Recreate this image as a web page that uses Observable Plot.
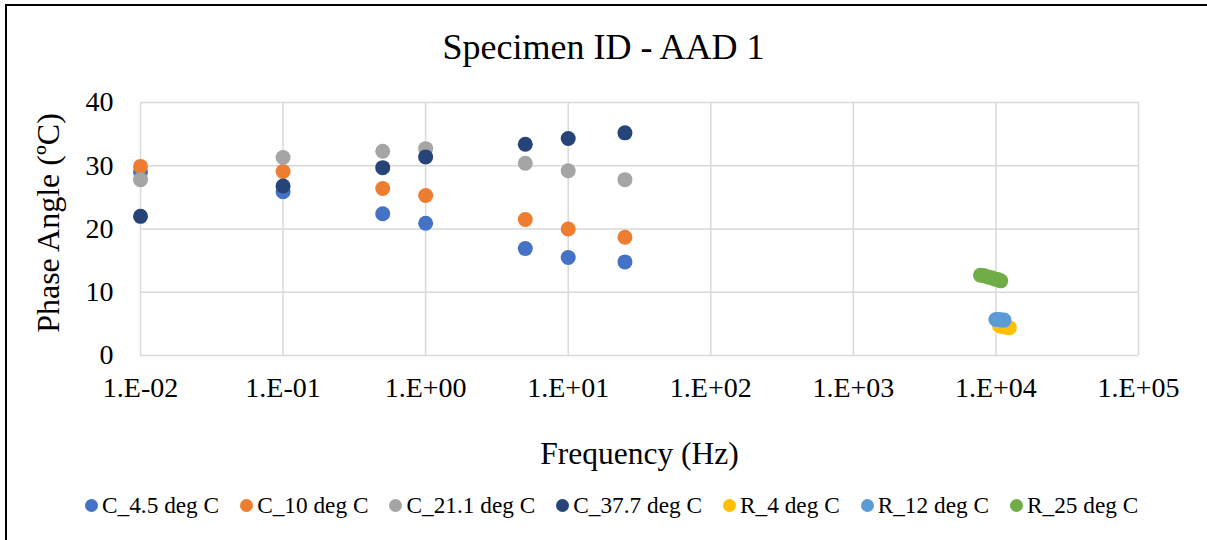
<!DOCTYPE html>
<html>
<head>
<meta charset="utf-8">
<script src="https://cdn.jsdelivr.net/npm/d3@7"></script>
<script src="https://cdn.jsdelivr.net/npm/@observablehq/plot@0.6"></script>
<style>
  html, body { margin: 0; padding: 0; background: #fff; }
  body { width: 1207px; height: 540px; position: relative; overflow: hidden; font-family: "Liberation Serif", "Times New Roman", serif; }
  #border { position: absolute; left: 5px; top: 4px; width: 1220px; height: 560px; border-left: 2px solid #000; border-top: 2px solid #000; }
  #title { position: absolute; left: 0; top: 27px; width: 1207px; text-align: center; font-size: 36px; line-height: 40px; color: #000; }
  #chart { position: absolute; left: 0; top: 90px; }
  #legend { position: absolute; left: 85px; top: 490px; display: flex; align-items: center; font-size: 23.3px; line-height: 30px; color: #000; }
  .item { display: flex; align-items: center; margin-right: 21px; white-space: nowrap; }
  .sw { width: 13px; height: 13px; border-radius: 50%; margin-right: 4px; }
</style>
</head>
<body>
<div id="border"></div>
<div id="title">Specimen ID - AAD 1</div>
<div id="chart"></div>
<div id="legend"></div>
<script>
// ---- data ----
const seriesNames = ["C_4.5 deg C", "C_10 deg C", "C_21.1 deg C", "C_37.7 deg C", "R_4 deg C", "R_12 deg C", "R_25 deg C"];
const seriesColors = ["#4472C4", "#ED7D31", "#A5A5A5", "#264478", "#FFC000", "#5B9BD5", "#70AD47"];

const freqC = [0.01, 0.1, 0.5, 1, 5, 10, 25];
const c45 = [29.0, 25.9, 22.4, 20.9, 16.9, 15.5, 14.8];
const c10 = [29.9, 29.1, 26.4, 25.3, 21.5, 20.0, 18.7];
const c211 = [27.8, 31.3, 32.3, 32.7, 30.4, 29.2, 27.8];
const c377 = [22.0, 26.8, 29.7, 31.4, 33.4, 34.3, 35.2];

const freqR4 = [10600, 11000, 11500, 12000, 12400];
const r4 = [4.7, 4.6, 4.5, 4.5, 4.4];
const freqR12 = [10000, 10500, 11000, 11400];
const r12 = [5.7, 5.7, 5.6, 5.6];
const freqR25 = [7800, 8300, 8800, 9300, 9800, 10300, 10800];
const r25 = [12.7, 12.6, 12.4, 12.3, 12.1, 12.0, 11.8];

const xTicks = [1e-2, 1e-1, 1e0, 1e1, 1e2, 1e3, 1e4, 1e5];
const yTicks = [0, 10, 20, 30, 40];

// ---- build table ----
const groups = [
  [freqC, c45], [freqC, c10], [freqC, c211], [freqC, c377],
  [freqR4, r4], [freqR12, r12], [freqR25, r25]
];
const rows = [];
groups.forEach(([fx, vy], i) => {
  fx.forEach((f, j) => rows.push({ series: seriesNames[i], freq: f, phase: vy[j] }));
});

const fmtX = d => {
  const e = Math.round(Math.log10(d));
  return "1.E" + (e < 0 ? "-" : "+") + String(Math.abs(e)).padStart(2, "0");
};

const font = '"Liberation Serif", "Times New Roman", serif';
const grid = "#d9d9d9";

const chart = Plot.plot({
  width: 1207,
  height: 400,
  marginLeft: 140,
  marginRight: 69,
  marginTop: 12,
  marginBottom: 135,
  style: { fontFamily: font, color: "#000", background: "transparent", overflow: "visible" },
  x: { type: "log", domain: [1e-2, 1e5] },
  y: { domain: [0, 40] },
  color: { domain: seriesNames, range: seriesColors },
  marks: [
    Plot.gridX(xTicks, { stroke: grid, strokeOpacity: 1, strokeWidth: 1.5 }),
    Plot.gridY(yTicks, { stroke: grid, strokeOpacity: 1, strokeWidth: 1.5 }),
    Plot.axisX(xTicks, { tickSize: 0, tickPadding: 22, tickFormat: fmtX, fontSize: 28, label: null }),
    Plot.axisY(yTicks, { tickSize: 0, tickPadding: 27, fontSize: 28, label: null }),
    Plot.dot(rows, { x: "freq", y: "phase", fill: "series", r: 7.5, stroke: "none" }),
    Plot.text(["Frequency (Hz)"], { frameAnchor: "bottom", dy: 108, fontSize: 31.5, fill: "#000" }),
    Plot.text(["Phase Angle (ºC)"], { frameAnchor: "left", dx: -92, dy: -6, rotate: -90, textAnchor: "middle", fontSize: 32, fill: "#000" })
  ]
});
document.getElementById("chart").appendChild(chart);

const legend = document.getElementById("legend");
seriesNames.forEach((name, i) => {
  const it = document.createElement("div");
  it.className = "item";
  const sw = document.createElement("span");
  sw.className = "sw";
  sw.style.background = seriesColors[i];
  const tx = document.createElement("span");
  tx.textContent = name;
  it.appendChild(sw);
  it.appendChild(tx);
  legend.appendChild(it);
});
</script>
</body>
</html>
